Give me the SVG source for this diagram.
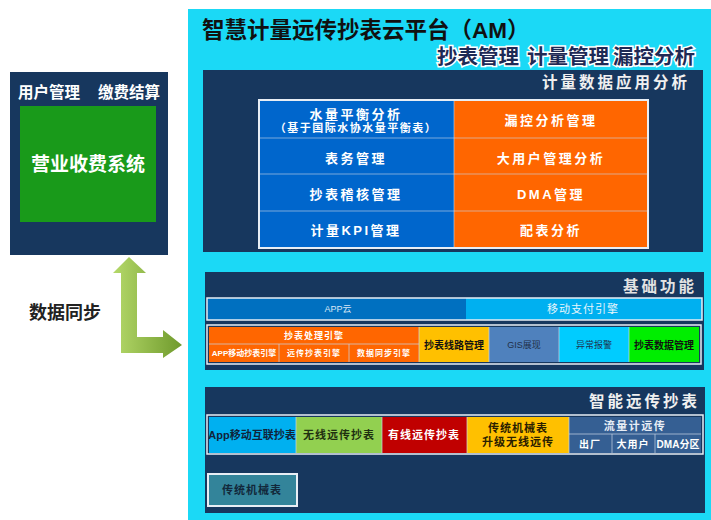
<svg xmlns="http://www.w3.org/2000/svg" width="711" height="520" viewBox="0 0 711 520">
<defs>
<linearGradient id="ga" x1="0" y1="0" x2="1" y2="0">
<stop offset="0" stop-color="#b5d96a"/>
<stop offset="1" stop-color="#6f9a2c"/>
</linearGradient>
<style>
text{font-family:"Liberation Sans","Noto Sans CJK SC",sans-serif;font-weight:bold;dominant-baseline:central;text-anchor:middle}
.w{fill:#ffffff}
.k{fill:#111111}
.navy{fill:#17375e}
.frame{fill:none;stroke:#e8eef5;stroke-width:2}
.div{stroke:#c9d6e6;stroke-width:1;fill:none}
.g{font-size:13px;letter-spacing:2.5px}
.ttl{font-size:15.5px;letter-spacing:3px;text-anchor:end;fill:#f0f0f0}
.s9{font-size:9px}
.s8{font-size:8px}
.s11{font-size:11px}
</style>
</defs>
<rect width="711" height="520" fill="#ffffff"/>
<g id="platform">
<rect x="188" y="9" width="523" height="511" fill="#1bd9f6"/>
<text x="202" y="30" style="font-size:22.5px;text-anchor:start" class="k">智慧计量远传抄表云平台（AM）</text>
<g style="font-size:20.5px;fill:#1e2a55;stroke:#ffffff;stroke-width:3;paint-order:stroke">
<text x="695" y="56" style="text-anchor:end">漏控分析</text>
<text x="609" y="56" style="text-anchor:end">计量管理</text>
<text x="519" y="56" style="text-anchor:end">抄表管理</text>
</g>
</g>
<g id="panel-analysis">
<rect x="203" y="70" width="500" height="182" class="navy"/>
<text x="690" y="82" class="ttl">计量数据应用分析</text>
<rect x="259" y="100" width="195" height="148" fill="#0066cc"/>
<rect x="454" y="100" width="194" height="148" fill="#ff6600"/>
<path d="M259 138H648M259 174H648M259 211H648M454 100V248" class="div" stroke-opacity="0.6"/>
<rect x="259" y="100" width="389" height="148" class="frame"/>
<text x="356" y="114" class="w g">水量平衡分析</text>
<text x="356" y="128" class="w" style="font-size:11px;letter-spacing:1.5px">（基于国际水协水量平衡表）</text>
<text x="551" y="120" class="w g">漏控分析管理</text>
<text x="356" y="158" class="w g">表务管理</text>
<text x="551" y="158" class="w g">大用户管理分析</text>
<text x="356" y="194" class="w g">抄表稽核管理</text>
<text x="551" y="194" class="w g">DMA管理</text>
<text x="356" y="230" class="w g">计量KPI管理</text>
<text x="551" y="230" class="w g">配表分析</text>
</g>
<g id="panel-basic">
<rect x="205" y="272" width="499" height="98" class="navy"/>
<text x="697" y="286" class="ttl" style="fill:#e2e2e2">基础功能</text>
<rect x="207" y="298" width="259" height="22" fill="#0070c0"/>
<rect x="466" y="298" width="236" height="22" fill="#00b0f0"/>
<rect x="207" y="298" width="495" height="22" class="frame" style="stroke-width:1.5"/>
<text x="338" y="309" class="s9" style="fill:#d8e6f5;font-weight:normal">APP云</text>
<text x="583" y="309" class="s11" style="fill:#e6f6fc;font-weight:normal;letter-spacing:1px">移动支付引擎</text>
<rect x="209" y="327" width="210" height="35" fill="#ff6600"/>
<rect x="419" y="327" width="70" height="35" fill="#ffc000"/>
<rect x="489" y="327" width="70" height="35" fill="#4f81bd"/>
<rect x="559" y="327" width="70" height="35" fill="#00ccff"/>
<rect x="629" y="327" width="70" height="35" fill="#00ee00"/>
<path d="M209 344H419M279 344V362M349 344V362M419 327V362M489 327V362M559 327V362M629 327V362" class="div" stroke-opacity="0.7"/>
<rect x="207" y="325" width="494" height="39" class="frame" style="stroke-width:1.5"/>
<text x="314" y="336" class="w s9" style="letter-spacing:1px">抄表处理引擎</text>
<text x="244" y="353" class="w s8">APP移动抄表引擎</text>
<text x="314" y="353" class="w s8" style="letter-spacing:1px">远传抄表引擎</text>
<text x="384" y="353" class="w s8" style="letter-spacing:1px">数据同步引擎</text>
<text x="454" y="345" class="k" style="font-size:10px">抄表线路管理</text>
<text x="524" y="345" class="s9" style="fill:#1f2f48;font-weight:normal">GIS展现</text>
<text x="594" y="345" class="s9" style="fill:#1f3450;font-weight:normal">异常报警</text>
<text x="664" y="345" class="k" style="font-size:10px">抄表数据管理</text>
</g>
<g id="panel-remote">
<rect x="205" y="387" width="500" height="126" class="navy"/>
<text x="700" y="401" class="ttl">智能远传抄表</text>
<rect x="209" y="417" width="87" height="36" fill="#00b0f0"/>
<rect x="296" y="417" width="86" height="36" fill="#92d050"/>
<rect x="382" y="417" width="85" height="36" fill="#c00000"/>
<rect x="467" y="417" width="102" height="36" fill="#ffc000"/>
<rect x="569" y="417" width="132" height="36" fill="#355f93"/>
<path d="M296 417V453M382 417V453M467 417V453M569 417V453M569 434H701M612 434V453M655 434V453" class="div" stroke-opacity="0.7"/>
<rect x="207" y="415" width="496" height="39" class="frame" style="stroke-width:1.5"/>
<text x="252" y="435" class="s11" style="fill:#10243a">App移动互联抄表</text>
<text x="339" y="435" class="s11" style="fill:#1f3010;letter-spacing:1px">无线远传抄表</text>
<text x="424" y="435" class="w s11" style="letter-spacing:1px">有线远传抄表</text>
<text x="518" y="428" class="s11" style="fill:#2a2000;letter-spacing:1px">传统机械表</text>
<text x="518" y="442" class="s11" style="fill:#2a2000;letter-spacing:1px">升级无线远传</text>
<text x="635" y="426" class="s11" style="fill:#e8eef6;letter-spacing:1.5px">流量计远传</text>
<text x="590" y="444" class="w" style="font-size:10px;letter-spacing:1px">出厂</text>
<text x="633" y="444" class="w" style="font-size:10px;letter-spacing:1px">大用户</text>
<text x="678" y="444" class="w" style="font-size:10px">DMA分区</text>
</g>
<g id="legacy-meter">
<rect x="208" y="474" width="89" height="32" fill="#33849a" stroke="#e8eef5" stroke-width="2"/>
<text x="252" y="490" class="s11" style="fill:#12283a;letter-spacing:1px">传统机械表</text>
</g>
<g id="billing">
<rect x="10" y="72" width="158" height="183" class="navy"/>
<text x="49" y="92" class="w" style="font-size:15.5px">用户管理</text>
<text x="129" y="92" class="w" style="font-size:15.5px">缴费结算</text>
<rect x="20" y="106" width="136" height="116" fill="#199a1a"/>
<text x="88" y="164" class="w" style="font-size:19px">营业收费系统</text>
</g>
<g id="connectors">
<path d="M121 273V353H163V358L182 345L163 330V337H137V273H146L129 257L113 273Z" fill="url(#ga)"/>
<text x="65" y="313" class="k" style="font-size:18px;fill:#222">数据同步</text>
</g>
</svg>
